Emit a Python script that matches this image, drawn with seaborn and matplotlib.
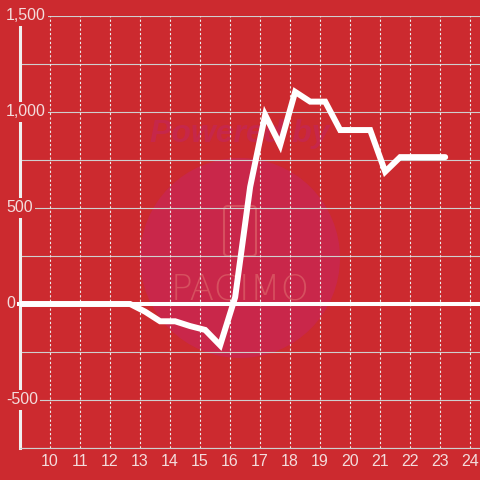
import matplotlib
matplotlib.use("Agg")
import matplotlib.pyplot as plt
from matplotlib.patches import Circle, FancyBboxPatch
import seaborn as sns
import pandas as pd

# Datos de la serie (hora del día vs. valor)
hours = [8.67, 9.17, 9.67, 10.17, 10.67, 11.17, 11.67, 12.17, 12.67, 13.17,
         13.67, 14.17, 14.67, 15.17, 15.67, 16.17, 16.67, 17.17, 17.67, 18.17,
         18.67, 19.17, 19.67, 20.17, 20.67, 21.17, 21.67, 22.17, 22.67, 23.17]
values = [0, 0, 0, 0, 0, 0, 0, 0, 0, -40,
          -90, -90, -115, -135, -215, 35, 610, 985, 828, 1105,
          1054, 1054, 906, 906, 906, 689, 765, 765, 765, 765]

x_ticks = list(range(10, 25))
y_ticks = [-500, 0, 500, 1000, 1500]
y_tick_labels = ["-500", "0", "500", "1,000", "1,500"]

BG = "#CC2A2F"
TXT = "#F3DCDC"

sns.set_theme(style="white")
plt.rcParams["font.family"] = ["Liberation Sans", "DejaVu Sans"]

fig = plt.figure(figsize=(4.8, 4.8), dpi=100, facecolor=BG)
ax = fig.add_axes([20 / 480, 32 / 480, 460 / 480, 432 / 480])
ax.set_facecolor(BG)

# Marca de agua (dentro del eje para que quede debajo de la línea)
ft = fig.transFigure
ax.add_patch(Circle((0.5, 1 - 258 / 480), 100 / 480, transform=ft,
                    facecolor="#C9274A", edgecolor="none", zorder=0.2, clip_on=False))
ax.text(0.5, 1 - 134 / 480, "Powered by", transform=ft, ha="center", va="center",
        fontsize=23, fontstyle="italic", fontweight="bold", color="#C6274A",
        zorder=0.3, clip_on=False)
ax.add_patch(FancyBboxPatch((224 / 480, 1 - 256 / 480), 32 / 480, 50 / 480,
                            boxstyle="round,pad=0,rounding_size=0.008",
                            transform=ft, facecolor="none",
                            edgecolor="#D6505F", lw=1.5, zorder=0.3, clip_on=False))
ax.text(0.5, 1 - 289 / 480, "PACIMO", transform=ft, ha="center", va="center",
        fontsize=26, fontfamily="DejaVu Sans", fontweight="light", color="#D6505F",
        zorder=0.3, clip_on=False)

# Rejilla
for v in range(-750, 1501, 250):
    ax.axhline(v, color="#CFCFCF", lw=0.8, zorder=1)
for h in x_ticks:
    ax.axvline(h, color="#EDEDED", lw=0.8, ls=(0, (2, 2)), zorder=1)

# Línea del cero
ax.axhline(0, xmin=-0.007, xmax=1, color="white", lw=2.9, zorder=2, clip_on=False)

df = pd.DataFrame({"hour": hours, "value": values})
sns.lineplot(data=df, x="hour", y="value", ax=ax, color="white", lw=4.3,
             zorder=3, solid_joinstyle="miter")

ax.set_xlim(9, 24.33)
ax.set_ylim(-750, 1500)
ax.set_xticks(x_ticks)
ax.set_xticklabels([str(t) for t in x_ticks])
ax.set_yticks([])
ax.set_xlabel("")
ax.set_ylabel("")
ax.tick_params(axis="x", length=0, pad=4, labelsize=11.5, labelcolor=TXT)

for s in ["top", "right"]:
    ax.spines[s].set_visible(False)
ax.spines["bottom"].set_color("#CFCFCF")
ax.spines["bottom"].set_linewidth(0.8)
ax.spines["left"].set_color("#F0F0F0")
ax.spines["left"].set_linewidth(2.2)

# Etiquetas del eje Y dentro del gráfico, con fondo
for v, lab in zip(y_ticks, y_tick_labels):
    ax.text(-14 / 460, v, lab, transform=ax.get_yaxis_transform(), ha="left",
            va="center", fontsize=11.5, color=TXT, zorder=10,
            bbox=dict(facecolor=BG, edgecolor="none", pad=1.5))

fig.savefig("out.png", dpi=100, facecolor=BG)
